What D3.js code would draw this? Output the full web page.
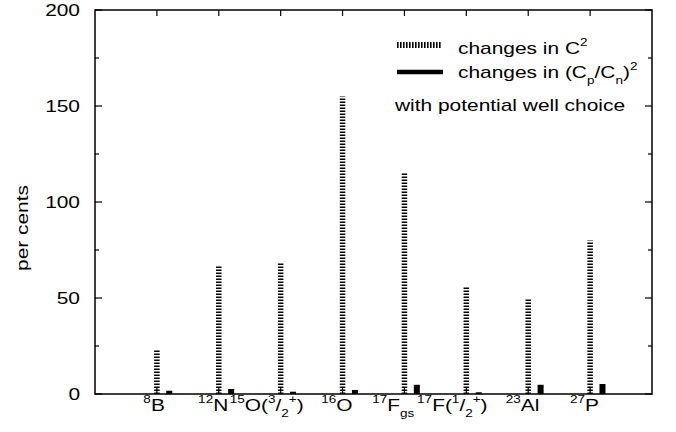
<!DOCTYPE html>
<html>
<head>
<meta charset="utf-8">
<script src="https://cdn.jsdelivr.net/npm/d3@7"></script>
<style>
  body { margin: 0; background: #fff; }
  text { font-family: "Liberation Sans", Arial, Helvetica, sans-serif; fill: #000; }
</style>
</head>
<body>
<div id="chart"></div>
<script>
// nuclei, each label split in pieces: [text, "sup"|"sub"|undefined]
var nuclei = [
  [["8", "sup"], ["B"]],
  [["12", "sup"], ["N"]],
  [["15", "sup"], ["O("], ["3", "sup"], ["/"], ["2", "sub"], ["+", "sup"], [")"]],
  [["16", "sup"], ["O"]],
  [["17", "sup"], ["F"], ["gs", "sub"]],
  [["17", "sup"], ["F("], ["1", "sup"], ["/"], ["2", "sub"], ["+", "sup"], [")"]],
  [["23", "sup"], ["Al"]],
  [["27", "sup"], ["P"]]
];

// changes in C^2 (per cents)
var changesC2 = [23, 67, 68, 155, 115, 56, 50, 80];
// changes in (Cp/Cn)^2 (per cents)
var changesRatio = [1.7, 2.6, 1.2, 2.1, 4.8, 0.9, 4.8, 5.2];

var yTicks = [0, 50, 100, 150, 200];
var yMinorTicks = [25, 75, 125, 175];

var svgWidth = 676;
var svgHeight = 432;
var margin = { top: 10, right: 24, bottom: 38, left: 95 };
var stretch = 1.23; // glyphs in the original are wider than Arial

var svg = d3.select("#chart")
  .append("svg")
  .attr("width", svgWidth)
  .attr("height", svgHeight);

var x = d3.scaleLinear()
  .domain([0, nuclei.length + 1])
  .range([margin.left, svgWidth - margin.right]);

var y = d3.scaleLinear()
  .domain([0, 200])
  .range([svgHeight - margin.bottom, margin.top]);

// writes a rich text piece list into a text element
function richText(textSel, parts, size, supSize) {
  var shift = 0;
  parts.forEach(function(p) {
    var target = p[1] === "sup" ? -8 : p[1] === "sub" ? 6 : 0;
    textSel.append("tspan")
      .attr("dy", target - shift)
      .style("font-size", (p[1] ? supSize : size) + "px")
      .text(p[0]);
    shift = target;
  });
}

// stretched text group
function stretchedText(px, py, rotate) {
  var g = svg.append("g")
    .attr("transform", "translate(" + px + "," + py + ")" + (rotate ? " rotate(-90)" : "") + " scale(" + stretch + ",1)");
  return g.append("text");
}

// dashed bars (C^2)
svg.append("g").selectAll("line")
  .data(changesC2)
  .enter()
  .append("line")
  .attr("x1", (d, i) => x(i + 1))
  .attr("x2", (d, i) => x(i + 1))
  .attr("y1", y(0))
  .attr("y2", d => y(d))
  .attr("stroke", "#000")
  .attr("stroke-width", 5.5)
  .attr("stroke-dasharray", "1.6,1.4");

// solid bars ((Cp/Cn)^2)
svg.append("g").selectAll("rect")
  .data(changesRatio)
  .enter()
  .append("rect")
  .attr("x", (d, i) => x(i + 1.2) - 3)
  .attr("width", 6)
  .attr("y", d => y(d))
  .attr("height", d => y(0) - y(d))
  .attr("fill", "#000");

// frame
var x0 = x.range()[0], x1 = x.range()[1], y0 = y.range()[0], y1 = y.range()[1];
svg.append("rect")
  .attr("x", x0).attr("y", y1)
  .attr("width", x1 - x0).attr("height", y0 - y1)
  .attr("fill", "none")
  .attr("stroke", "#000")
  .attr("stroke-width", 1.5);

// y ticks, both sides, inward
var tickG = svg.append("g").attr("stroke", "#000").attr("stroke-width", 1.2);
yTicks.concat(yMinorTicks).forEach(function(v) {
  var len = yTicks.indexOf(v) >= 0 ? 7 : 4;
  tickG.append("line").attr("x1", x0).attr("x2", x0 + len).attr("y1", y(v)).attr("y2", y(v));
  tickG.append("line").attr("x1", x1).attr("x2", x1 - len).attr("y1", y(v)).attr("y2", y(v));
});
// x ticks top and bottom
nuclei.forEach(function(d, i) {
  tickG.append("line").attr("x1", x(i + 1)).attr("x2", x(i + 1)).attr("y1", y1).attr("y2", y1 + 6);
  tickG.append("line").attr("x1", x(i + 1)).attr("x2", x(i + 1)).attr("y1", y0).attr("y2", y0 - 6);
});

// y tick labels
yTicks.forEach(function(v) {
  stretchedText(80, y(v) + 6)
    .attr("text-anchor", "end")
    .style("font-size", "17px")
    .text(v);
});

// y axis title
stretchedText(28, 228, true)
  .attr("text-anchor", "middle")
  .style("font-size", "17px")
  .text("per cents");

// x category labels
nuclei.forEach(function(parts, i) {
  var scripts = d3.sum(parts, p => p[1] ? p[0].length : 0);
  var t = stretchedText(x(i + 1) - 2.8 * scripts, 411)
    .attr("text-anchor", "middle")
    .style("font-size", "17px");
  richText(t, parts, 17, 11);
});

// legend
svg.append("line")
  .attr("x1", 397).attr("x2", 442)
  .attr("y1", 45).attr("y2", 45)
  .attr("stroke", "#000")
  .attr("stroke-width", 6)
  .attr("stroke-dasharray", "1.6,1.4");
svg.append("line")
  .attr("x1", 397).attr("x2", 443)
  .attr("y1", 72).attr("y2", 72)
  .attr("stroke", "#000")
  .attr("stroke-width", 4.5);

richText(stretchedText(458, 54).style("font-size", "17px"),
  [["changes in C"], ["2", "sup"]], 17, 11);
richText(stretchedText(458, 78).style("font-size", "17px"),
  [["changes in (C"], ["p", "sub"], ["/C"], ["n", "sub"], [")"], ["2", "sup"]], 17, 11);
stretchedText(395, 111)
  .style("font-size", "17px")
  .text("with potential well choice");
</script>
</body>
</html>
